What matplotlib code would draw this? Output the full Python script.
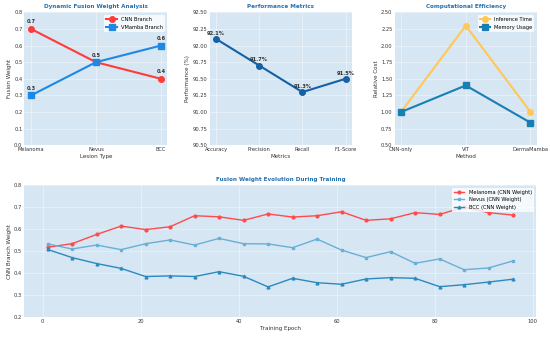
import matplotlib.pyplot as plt

lesions = ['Melanoma', 'Nevus', 'BCC']
cnn_weight = [0.7, 0.5, 0.4]
vmamba_weight = [0.3, 0.5, 0.6]

metrics = ['Accuracy', 'Precision', 'Recall', 'F1-Score']
perf = [92.1, 91.7, 91.3, 91.5]

methods = ['CNN-only', 'ViT', 'DermaMamba']
inference_time = [1.0, 2.3, 1.0]
memory_usage = [1.0, 1.4, 0.84]

epochs = [1, 6, 11, 16, 21, 26, 31, 36, 41, 46, 51, 56, 61, 66, 71, 76, 81, 86, 91, 96]
mel_w = [0.518, 0.534, 0.576, 0.614, 0.598, 0.611, 0.661, 0.656, 0.640, 0.669,
         0.655, 0.661, 0.679, 0.640, 0.647, 0.675, 0.667, 0.700, 0.675, 0.664]
nev_w = [0.533, 0.510, 0.528, 0.507, 0.534, 0.551, 0.528, 0.558, 0.534, 0.533,
         0.516, 0.555, 0.505, 0.471, 0.498, 0.445, 0.465, 0.416, 0.424, 0.456]
bcc_w = [0.508, 0.471, 0.444, 0.422, 0.385, 0.388, 0.385, 0.407, 0.386, 0.338,
         0.377, 0.357, 0.350, 0.374, 0.380, 0.377, 0.339, 0.348, 0.360, 0.373]

bg = '#d7e6f3'
title_c = '#2470b0'
fs_tick = 3.7
fs_lab = 4.1
fs_title = 4.1

fig = plt.figure(figsize=(5.5, 3.39), dpi=100)
ax1 = fig.add_axes([0.0445, 0.5714, 0.26, 0.3923])
ax2 = fig.add_axes([0.381, 0.5714, 0.259, 0.3923])
ax3 = fig.add_axes([0.7173, 0.5714, 0.259, 0.3923])
ax4 = fig.add_axes([0.0442, 0.064, 0.931, 0.390])


def style(ax, title, xl, yl):
    ax.set_facecolor(bg)
    ax.grid(True, color='white', linewidth=0.4, alpha=0.7)
    ax.set_axisbelow(True)
    for s in ax.spines.values():
        s.set_visible(False)
    ax.tick_params(labelsize=fs_tick, length=0, pad=1.5, colors='#333333')
    ax.set_title(title, fontsize=fs_title, fontweight='bold', color=title_c, pad=3)
    ax.set_xlabel(xl, fontsize=fs_lab, color='#333333', labelpad=1.5)
    ax.set_ylabel(yl, fontsize=fs_lab, color='#333333', labelpad=1.5)


# panel 1
ax1.plot(lesions, cnn_weight, 'o-', color='#ff3b3b', lw=1.5, ms=4, label='CNN Branch')
ax1.plot(lesions, vmamba_weight, 's-', color='#1e88e5', lw=1.5, ms=4, label='VMamba Branch')
for i in range(len(lesions)):
    ax1.annotate(f'{cnn_weight[i]}', (i, cnn_weight[i]), xytext=(0, 4), textcoords='offset points',
                 ha='center', fontsize=fs_tick, fontweight='bold', color='#333333')
    if vmamba_weight[i] != cnn_weight[i]:
        ax1.annotate(f'{vmamba_weight[i]}', (i, vmamba_weight[i]), xytext=(0, 4), textcoords='offset points',
                     ha='center', fontsize=fs_tick, fontweight='bold', color='#333333')
ax1.set_ylim(0, 0.8)
style(ax1, 'Dynamic Fusion Weight Analysis', 'Lesion Type', 'Fusion Weight')
ax1.legend(fontsize=fs_tick, loc='upper right', framealpha=0.8, edgecolor='none', borderpad=0.4)

# panel 2
ax2.plot(metrics, perf, 'o-', color='#1461a6', lw=1.5, ms=4)
for i, v in enumerate(perf):
    ax2.annotate(f'{v}%', (i, v), xytext=(0, 3), textcoords='offset points',
                 ha='center', fontsize=fs_tick, fontweight='bold', color='#333333')
ax2.set_ylim(90.5, 92.5)
style(ax2, 'Performance Metrics', 'Metrics', 'Performance (%)')

# panel 3
ax3.plot(methods, inference_time, 'o-', color='#ffc857', lw=1.5, ms=4, label='Inference Time')
ax3.plot(methods, memory_usage, 's-', color='#177fb3', lw=1.5, ms=4, label='Memory Usage')
ax3.set_ylim(0.5, 2.5)
style(ax3, 'Computational Efficiency', 'Method', 'Relative Cost')
ax3.legend(fontsize=fs_tick, loc='upper right', framealpha=0.8, edgecolor='none', borderpad=0.4)

# panel 4
ax4.plot(epochs, mel_w, 'o-', color='#ff4b4b', lw=1, ms=2, label='Melanoma (CNN Weight)')
ax4.plot(epochs, nev_w, 's-', color='#6aafd6', lw=1, ms=2, label='Nevus (CNN Weight)')
ax4.plot(epochs, bcc_w, '^-', color='#2a8abf', lw=1, ms=2, label='BCC (CNN Weight)')
ax4.set_ylim(0.2, 0.8)
style(ax4, 'Fusion Weight Evolution During Training', 'Training Epoch', 'CNN Branch Weight')
ax4.legend(fontsize=fs_tick, loc='upper right', framealpha=0.8, edgecolor='none', borderpad=0.4)

fig.savefig('out.png', dpi=100)
